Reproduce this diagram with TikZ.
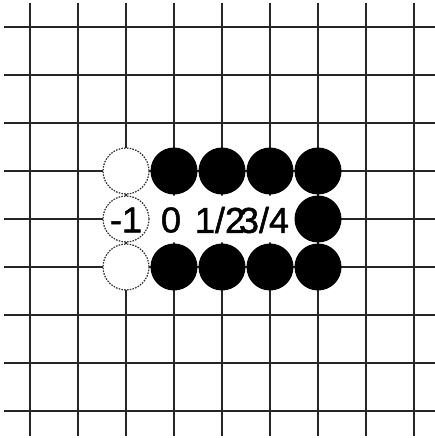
\documentclass[tikz,border=0pt]{standalone}
\usepackage{fontspec}
\setmainfont{Liberation Sans}
\newfontfamily\lblfont[FakeBold=1.4]{Liberation Sans}
\begin{document}
\begin{tikzpicture}[x=1pt,y=-1pt,
  gridline/.style={line width=1.4pt,black!85},
  blackstone/.style={circle,fill=black,draw=none,minimum size=47pt,inner sep=0pt},
  whitestone/.style={circle,fill=white,draw=black!80,line width=1.2pt,dash pattern=on 1.6pt off 1.2pt,minimum size=46pt,inner sep=0pt},
  emptypt/.style={circle,fill=white,draw=none,minimum size=47pt,inner sep=0pt},
  lbl/.style={font=\lblfont\fontsize{36}{36}\selectfont,inner sep=0pt}]
\useasboundingbox (0,0) rectangle (435,438);
\fill[white] (0,0) rectangle (435,438);
% grid
\foreach \i in {0,...,8} {
  \draw[gridline] (30+48*\i,3) -- (30+48*\i,436);
  \draw[gridline] (4,27+48*\i) -- (435,27+48*\i);
}
% white stones
\node[whitestone] (w1) at (126,171) {};
\node[whitestone] (w2) at (126,219) {};
\node[whitestone] (w3) at (126,267) {};
% empty labelled points
\node[emptypt] (e0) at (173,219) {};
\node[emptypt] (e1) at (221,219) {};
\node[emptypt] (e2) at (269,219) {};
\fill[white] (150,196) rectangle (295,242);
% black stones
\foreach \x/\n in {174/a,222/b,270/c,318/d} {
  \node[blackstone] (t\n) at (\x,171) {};
  \node[blackstone] (b\n) at (\x,267) {};
}
% labels
\node[lbl] (l1) at (126,220) {-1};
\node[lbl] (l0) at (171,220) {0};
\node[lbl] (l2) at (220,220) {1/2};
\node[lbl] (l3) at (264,220) {3/4};
\node[blackstone] (md) at (318,219) {};
\end{tikzpicture}
\end{document}
